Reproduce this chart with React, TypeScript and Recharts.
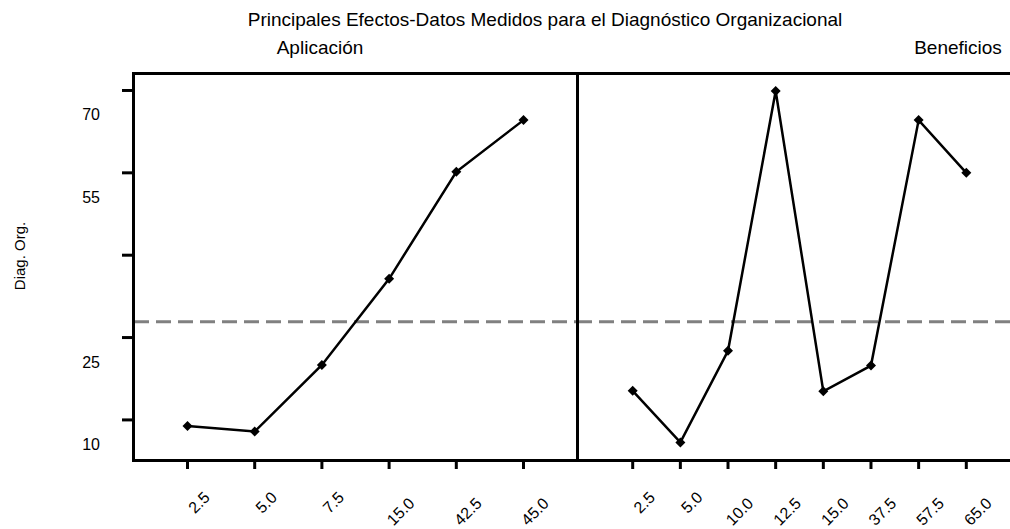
import React from "react";
import { LineChart, Line, XAxis, YAxis, ReferenceLine } from "recharts";

// medias por nivel
const aplicacionCats = ["2.5", "5.0", "7.5", "15.0", "42.5", "45.0"];
const aplicacionMeans = [13.9, 12.9, 25.0, 40.7, 60.2, 69.6];
const beneficiosCats = ["2.5", "5.0", "10.0", "12.5", "15.0", "37.5", "57.5", "65.0"];
const beneficiosMeans = [20.3, 10.9, 27.6, 74.9, 20.2, 24.9, 69.6, 60.0];
const grandMean = 32.9;
const yLabelTicks = [10, 25, 55, 70];
const yMarkTicks = [15, 30, 45, 60, 75];
const yDomain: [number, number] = [7.7, 78.0];

const aplicacionData = aplicacionCats.map((nivel, i) => ({ nivel, media: aplicacionMeans[i] }));
const beneficiosData = beneficiosCats.map((nivel, i) => ({ nivel, media: beneficiosMeans[i] }));

const FONT = "'Liberation Sans', Arial, sans-serif";

function YTick({ x, y, payload }: any) {
  const v = payload.value;
  if (yMarkTicks.includes(v)) {
    return <line x1={x - 12} x2={x} y1={y} y2={y} stroke="#000" strokeWidth={3} />;
  }
  return (
    <text x={x - 34} y={y - 3} textAnchor="end" dominantBaseline="central" fontSize={16} fontFamily={FONT} fill="#000">
      {v}
    </text>
  );
}

function XTick({ x, y, payload }: any) {
  const label = String(payload.value);
  const cx = x + 11.5;
  const cy = y + 31.5 + (label.length - 3) * 9;
  return (
    <text
      x={cx}
      y={cy}
      textAnchor="middle"
      dominantBaseline="central"
      fontSize={16}
      fontFamily={FONT}
      fill="#000"
      transform={`rotate(-45 ${cx} ${cy})`}
    >
      {label}
    </text>
  );
}

function Diamond({ cx, cy }: any) {
  if (cx == null || cy == null) return <g />;
  const r = 5;
  return <polygon points={`${cx},${cy - r} ${cx + r},${cy} ${cx},${cy + r} ${cx - r},${cy}`} fill="#000" />;
}

const tickLineStyle = { stroke: "#000", strokeWidth: 3 };

export default function App() {
  return (
    <div
      style={{
        position: "fixed",
        left: 0,
        top: 0,
        width: 1010,
        height: 529,
        overflow: "hidden",
        background: "#fff",
        fontFamily: FONT,
        color: "#000",
      }}
    >
      <div style={{ position: "absolute", left: 545, top: 9, transform: "translateX(-50%)", fontSize: 19, lineHeight: "22px", whiteSpace: "nowrap" }}>
        Principales Efectos-Datos Medidos para el Diagnóstico Organizacional
      </div>
      <div style={{ position: "absolute", left: 320, top: 37, transform: "translateX(-50%)", fontSize: 19, lineHeight: "22px" }}>Aplicación</div>
      <div style={{ position: "absolute", left: 958, top: 37, transform: "translateX(-50%)", fontSize: 19, lineHeight: "22px" }}>Beneficios</div>
      <div
        style={{
          position: "absolute",
          left: 19,
          top: 256,
          transform: "translate(-50%, -50%) rotate(-90deg)",
          fontSize: 15,
          whiteSpace: "nowrap",
        }}
      >
        Diag. Org.
      </div>

      <div style={{ position: "absolute", left: 0, top: 0 }}>
        <LineChart width={577} height={529} data={aplicacionData} margin={{ top: 74, right: 0, bottom: 0, left: 0 }}>
          <XAxis
            dataKey="nivel"
            scale="point"
            padding={{ left: 53.5, right: 53.5 }}
            height={69}
            axisLine={false}
            tickLine={tickLineStyle}
            tickSize={9}
            interval={0}
            tick={<XTick />}
          />
          <YAxis
            type="number"
            domain={yDomain}
            allowDataOverflow
            ticks={[...yLabelTicks, ...yMarkTicks].sort((a, b) => a - b)}
            interval={0}
            width={134}
            axisLine={false}
            tickLine={false}
            tickSize={0}
            tickMargin={0}
            tick={<YTick />}
          />
          <ReferenceLine y={grandMean} stroke="#808080" strokeWidth={3} strokeDasharray="15 7" />
          <Line
            type="linear"
            dataKey="media"
            stroke="#000"
            strokeWidth={2.5}
            dot={<Diamond />}
            activeDot={false}
            isAnimationActive={false}
          />
        </LineChart>
      </div>

      <div style={{ position: "absolute", left: 577, top: 0 }}>
        <LineChart width={445} height={529} data={beneficiosData} margin={{ top: 74, right: 0, bottom: 0, left: 0 }}>
          <XAxis
            dataKey="nivel"
            scale="point"
            padding={{ left: 55.7, right: 55.7 }}
            height={69}
            axisLine={false}
            tickLine={tickLineStyle}
            tickSize={9}
            interval={0}
            tick={<XTick />}
          />
          <YAxis type="number" domain={yDomain} allowDataOverflow hide />
          <ReferenceLine y={grandMean} stroke="#808080" strokeWidth={3} strokeDasharray="15 7" />
          <Line
            type="linear"
            dataKey="media"
            stroke="#000"
            strokeWidth={2.5}
            dot={<Diamond />}
            activeDot={false}
            isAnimationActive={false}
          />
        </LineChart>
      </div>

      <div
        style={{
          position: "absolute",
          left: 132,
          top: 72,
          width: 892,
          height: 390,
          border: "3px solid #000",
          boxSizing: "border-box",
        }}
      />
      <div style={{ position: "absolute", left: 575.5, top: 72, width: 3, height: 390, background: "#000" }} />
    </div>
  );
}
